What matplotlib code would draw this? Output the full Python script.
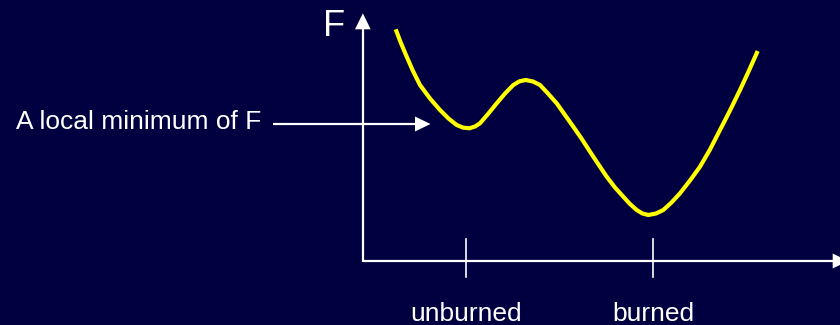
import matplotlib
matplotlib.use("Agg")
import matplotlib.pyplot as plt

# Curve of F (in pixel coordinates of the 840x325 canvas)
curve_x = [395.7, 400.5, 406.7, 413.0, 420.0, 430.0, 440.0, 448.5, 456.7, 463.0, 469.3, 475.0,
           480.0, 488.0, 496.7, 505.0, 513.3, 519.5, 525.7, 533.0, 540.0, 548.0, 556.7, 565.0,
           573.3, 581.5, 590.0, 598.5, 606.7, 615.0, 623.3, 630.0, 636.7, 642.5, 648.3, 656.0,
           663.3, 671.5, 680.0, 690.0, 700.0, 710.0, 720.0, 730.0, 740.0, 749.0, 757.7]
curve_y = [29.3, 42.0, 56.7, 71.0, 85.0, 98.5, 110.0, 118.5, 125.0, 127.6, 128.3, 126.5,
           123.3, 114.0, 103.3, 93.5, 85.0, 81.3, 80.0, 81.5, 85.0, 93.5, 103.3, 115.0,
           126.7, 138.5, 151.7, 164.5, 176.7, 187.5, 196.7, 204.0, 210.0, 213.5, 215.0, 213.5,
           210.0, 202.5, 193.3, 180.5, 166.7, 149.5, 130.0, 110.5, 90.0, 70.5, 51.0]

tick_positions = [466.0, 653.0]
tick_labels = ["unburned", "burned"]
axis_label = "F"
annotation_text = "A local minimum of F"

BG = "#000040"
fig = plt.figure(figsize=(8.4, 3.25), dpi=100, facecolor=BG)
ax = fig.add_axes([0, 0, 1, 1])
ax.set_facecolor(BG)
ax.set_xlim(0, 840)
ax.set_ylim(325, 0)
ax.axis("off")

family = ["Liberation Sans", "DejaVu Sans"]

# axes lines with arrowheads
ax.plot([362.7, 362.7], [262, 29], color="white", lw=1.6, solid_capstyle="butt")
ax.fill([355, 370.7, 362.85], [29.3, 29.3, 13.3], color="white", lw=0)
ax.plot([362.7, 833], [261, 261], color="white", lw=1.6, solid_capstyle="butt")
ax.fill([832.7, 832.7, 848], [253.5, 268.5, 261], color="white", lw=0, clip_on=False)

# ticks
for tx in tick_positions:
    ax.plot([tx, tx], [239, 277], color="white", lw=1.2)
for tx, lab in zip(tick_positions, tick_labels):
    ax.text(tx, 314, lab, color="white", fontsize=19, family=family,
            ha="center", va="center")

ax.text(334.5, 27, axis_label, color="white", fontsize=26, family=family,
        ha="center", va="center")

# annotation arrow
ax.plot([273, 416], [124, 124], color="white", lw=1.6, solid_capstyle="butt")
ax.fill([415, 415, 430.5], [116.5, 131.5, 124], color="white", lw=0)
ax.text(16, 122, annotation_text, color="white", fontsize=19, family=family,
        ha="left", va="center")

# curve
ax.plot(curve_x, curve_y, color="#FFFF00", lw=3.0, solid_joinstyle="round",
        solid_capstyle="butt")

fig.savefig("out.png", dpi=100, facecolor=BG)
